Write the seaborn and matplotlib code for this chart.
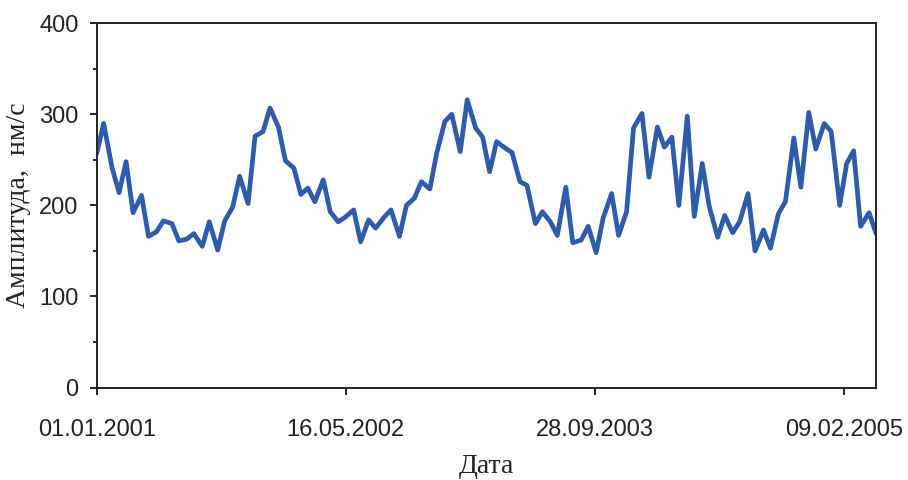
import numpy as np
import pandas as pd
import matplotlib
matplotlib.use('Agg')
import matplotlib.pyplot as plt
import matplotlib.dates as mdates
from matplotlib.ticker import MultipleLocator
import seaborn as sns

# amplitude readings, twice a month from 01.01.2001
amplitude = [257, 290, 241, 214, 248, 192, 211, 166, 171, 183,
             180, 161, 163, 169, 155, 182, 151, 183, 198, 232,
             202, 276, 281, 307, 286, 249, 241, 212, 219, 204,
             228, 193, 182, 187, 195, 160, 184, 175, 187, 195,
             166, 200, 208, 226, 218, 258, 292, 300, 259, 316,
             285, 275, 237, 270, 263, 258, 226, 222, 180, 193,
             182, 167, 220, 159, 162, 177, 148, 186, 213, 167,
             193, 285, 301, 231, 286, 264, 275, 200, 298, 188,
             246, 199, 165, 189, 170, 182, 213, 150, 173, 153,
             191, 204, 274, 220, 302, 262, 290, 281, 200, 246,
             260, 177, 192, 169]
dates = pd.date_range('2001-01-01', periods=len(amplitude), freq='SMS')
tick_dates = pd.to_datetime(['2001-01-01', '2002-05-16', '2003-09-28', '2005-02-09'])

df = pd.DataFrame({'date': dates, 'amp': amplitude})

sns.set_style('ticks')
plt.rcParams['font.family'] = ['Liberation Sans', 'DejaVu Sans']

fig = plt.figure(figsize=(9.08, 4.8), dpi=100)
ax = fig.add_axes([0.1065, 0.1927, 0.8583, 0.7588])

sns.lineplot(data=df, x='date', y='amp', color='#2E5BAA', linewidth=3.4, ax=ax)

ax.set_xlim(dates[0], dates[-1])
ax.set_ylim(0, 400)
ax.set_xticks(tick_dates)
ax.xaxis.set_major_formatter(mdates.DateFormatter('%d.%m.%Y'))
ax.yaxis.set_major_locator(MultipleLocator(100))
ax.yaxis.set_minor_locator(MultipleLocator(50))

for s in ax.spines.values():
    s.set_linewidth(1.4)
    s.set_color('#222222')
ax.tick_params(axis='both', which='major', direction='out', length=5, width=1.4,
               color='#222222', labelsize=17, labelcolor='#222222', pad=8)
ax.tick_params(axis='y', which='minor', direction='out', length=3, width=1.4, color='#222222')
ax.tick_params(axis='x', pad=18)

serif = ['Liberation Serif', 'DejaVu Serif']
ax.set_xlabel('Дата', family=serif, fontsize=20, color='#222222', labelpad=9)
ax.set_ylabel('Амплитуда,  нм/с', family=serif, fontsize=20, color='#222222', labelpad=6)

fig.savefig('out.png', dpi=100)
